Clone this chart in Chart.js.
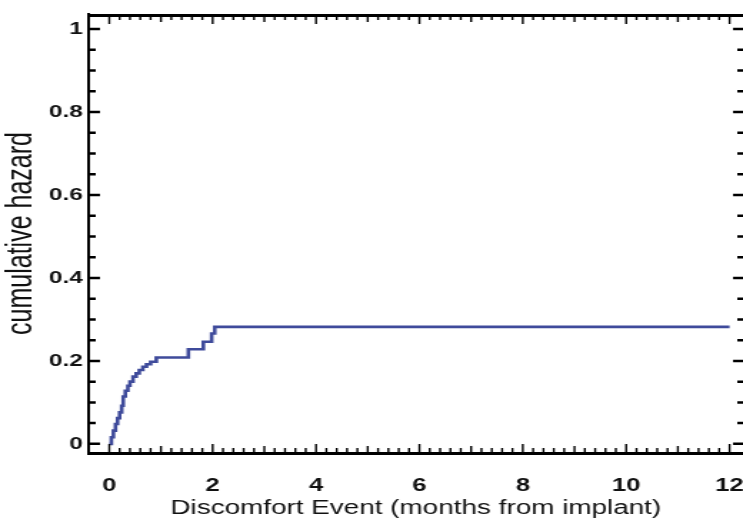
<!DOCTYPE html>
<html lang="en">
<head>
  <meta charset="UTF-8">
  <title>Discomfort Event cumulative hazard</title>
  <script src="https://cdn.jsdelivr.net/npm/chart.js"></script>
  <style>
    body {
      margin: 0;
      padding: 0;
      background: #fff;
      overflow: hidden;
    }
    #wrap {
      width: 520px;
      height: 520px;
      transform: scaleX(1.428846);
      transform-origin: 0 0;
    }
  </style>
</head>
<body>
  <div id="wrap"><canvas id="chart" width="520" height="520"></canvas></div>

  <script>
    // months from implant where the cumulative hazard steps up, and the value after each step
    const months = [0, 0.04, 0.08, 0.12, 0.16, 0.20, 0.24, 0.27, 0.31, 0.36, 0.40, 0.46, 0.52,
                    0.58, 0.65, 0.72, 0.80, 0.91, 1.53, 1.82, 1.98, 2.04, 12];
    const hazard = [0, 0.016, 0.032, 0.048, 0.062, 0.076, 0.092, 0.114, 0.128, 0.140, 0.150, 0.162, 0.170,
                    0.178, 0.186, 0.192, 0.198, 0.208, 0.228, 0.246, 0.266, 0.282, 0.282];

    const xTicks = [0, 2, 4, 6, 8, 10, 12];
    const yTicks = [0, 0.2, 0.4, 0.6, 0.8, 1];
    const xMinorStep = 0.2;
    const yMinorStep = 0.05;

    // inward tick marks on all four sides + the top frame line
    const frameTicks = {
      id: 'frameTicks',
      afterDraw(chart) {
        const { ctx, chartArea: a, scales: { x, y } } = chart;
        ctx.save();
        ctx.strokeStyle = '#000';
        ctx.lineWidth = 3;
        ctx.beginPath();
        ctx.moveTo(a.left - 1, a.top + 1.5);
        ctx.lineTo(a.right, a.top + 1.5);
        ctx.stroke();

        ctx.lineWidth = 1.4;
        const nx = Math.round(12 / xMinorStep);
        for (let i = 0; i <= nx; i++) {
          const v = i * xMinorStep;
          const px = x.getPixelForValue(v);
          let len = 4;
          if (i % 5 === 0) len = 6;
          if (i % 10 === 0) len = 8;
          ctx.beginPath();
          ctx.moveTo(px, a.bottom - 1);
          ctx.lineTo(px, a.bottom - 1 - len);
          ctx.moveTo(px, a.top + 2);
          ctx.lineTo(px, a.top + 2 + len);
          ctx.stroke();
        }

        ctx.lineWidth = 2.5;
        const ny = Math.round(1 / yMinorStep);
        for (let i = 0; i <= ny; i++) {
          const py = y.getPixelForValue(i * yMinorStep);
          const len = i % 4 === 0 ? 7 : 4;
          ctx.beginPath();
          ctx.moveTo(a.left + 1, py);
          ctx.lineTo(a.left + 1 + len, py);
          ctx.moveTo(a.right, py);
          ctx.lineTo(a.right - len, py);
          ctx.stroke();
        }
        ctx.restore();
      }
    };

    const ctx = document.getElementById('chart').getContext('2d');
    new Chart(ctx, {
      type: 'line',
      data: {
        datasets: [{
          data: months.map((m, i) => ({ x: m, y: hazard[i] })),
          borderColor: '#3f4b9b',
          borderWidth: 2.6,
          pointRadius: 0,
          stepped: 'before',
          fill: false
        }]
      },
      options: {
        responsive: false,
        animation: false,
        layout: { padding: { top: 14, right: 0, left: 0, bottom: 0 } },
        plugins: {
          legend: { display: false },
          tooltip: { enabled: false }
        },
        scales: {
          x: {
            type: 'linear',
            min: -0.40,
            max: 12.26,
            afterBuildTicks: s => { s.ticks = xTicks.map(v => ({ value: v })); },
            afterFit: s => { s.height = 67; s.paddingLeft = 0; s.paddingRight = 0; },
            grid: { drawOnChartArea: false, drawTicks: false },
            border: { display: true, color: '#000', width: 3 },
            ticks: {
              padding: 22,
              color: '#111',
              font: { family: 'Liberation Sans, Arial, sans-serif', size: 18, weight: 'bold' },
              callback: v => String(v),
              maxRotation: 0
            },
            title: {
              display: true,
              text: 'Discomfort Event (months from implant)',
              color: '#111',
              padding: { top: 0, bottom: 0 },
              font: { family: 'Liberation Sans, Arial, sans-serif', size: 19.5 }
            }
          },
          y: {
            min: -0.022,
            max: 1.036,
            afterBuildTicks: s => { s.ticks = yTicks.map(v => ({ value: v })); },
            afterFit: s => { s.width = 62; s.paddingTop = 0; s.paddingBottom = 0; },
            grid: { drawOnChartArea: false, drawTicks: false },
            border: { display: true, color: '#000', width: 2 },
            ticks: {
              padding: 4,
              color: '#111',
              font: { family: 'Liberation Sans, Arial, sans-serif', size: 17, weight: 'bold' },
              callback: v => String(v)
            },
            title: {
              display: true,
              text: 'cumulative hazard',
              color: '#111',
              padding: { top: 0, bottom: 0 },
              font: { family: 'Liberation Sans, Arial, sans-serif', size: 25 }
            }
          }
        }
      },
      plugins: [frameTicks]
    });
  </script>
</body>
</html>
